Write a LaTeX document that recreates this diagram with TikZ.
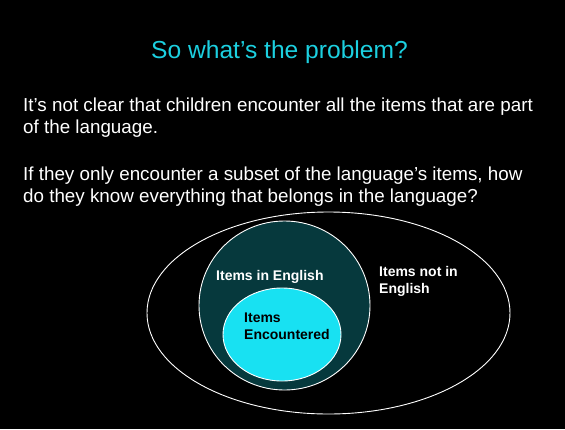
\documentclass[tikz,border=0pt]{standalone}
\usepackage{fontspec}
\setmainfont{Liberation Sans}
\usepackage{tikz}
\usetikzlibrary{shapes.geometric}
\definecolor{slidecyan}{RGB}{24,225,242}
\definecolor{titlecyan}{RGB}{28,208,224}
\definecolor{darkteal}{RGB}{6,57,61}
\tikzstyle{setnode} = [ellipse, draw=white, line width=0.9pt, inner sep=0pt]
\tikzstyle{titletext} = [anchor=base, inner sep=0pt, text=titlecyan, font=\fontsize{24.6}{29}\selectfont]
\tikzstyle{bodytext} = [anchor=base west, align=left, inner sep=0pt, text=white, font=\fontsize{18.8}{22}\selectfont]
\tikzstyle{setlabel} = [anchor=base west, align=left, inner sep=0pt, font=\fontsize{14}{16.5}\selectfont\bfseries]

\begin{document}
\begin{tikzpicture}[x=1pt,y=-1pt]

\fill [black] (0,0) rectangle (565,429);
\useasboundingbox (0,0) rectangle (565,429);

\node [titletext] at (279.5,58) (title) {So what’s the problem?};

%% base of a two-line node is its last line
\node [bodytext] at (23,133) (para1) {It’s not clear that children encounter all the items that are part\\of the language.};
\node [bodytext] at (23,202) (para2) {If they only encounter a subset of the language’s items, how\\do they know everything that belongs in the language?};

%% sets

\node [setnode, minimum width=363pt, minimum height=202pt] at (328.5,313) (lang) {};
\node [setnode, fill=darkteal, minimum width=171pt, minimum height=169pt] at (284.5,305.5) (english) {};
\node [setnode, fill=slidecyan, minimum width=118pt, minimum height=93pt] at (282,334.5) (seen) {};

%% labels

\node [setlabel, text=white] at (216,280) (englishlbl) {Items in English};
\node [setlabel, text=white] at (379,293) (notlbl) {Items not in\\English};
\node [setlabel, text=black] at (244,339) (seenlbl) {Items\\Encountered};

\end{tikzpicture}
\end{document}
